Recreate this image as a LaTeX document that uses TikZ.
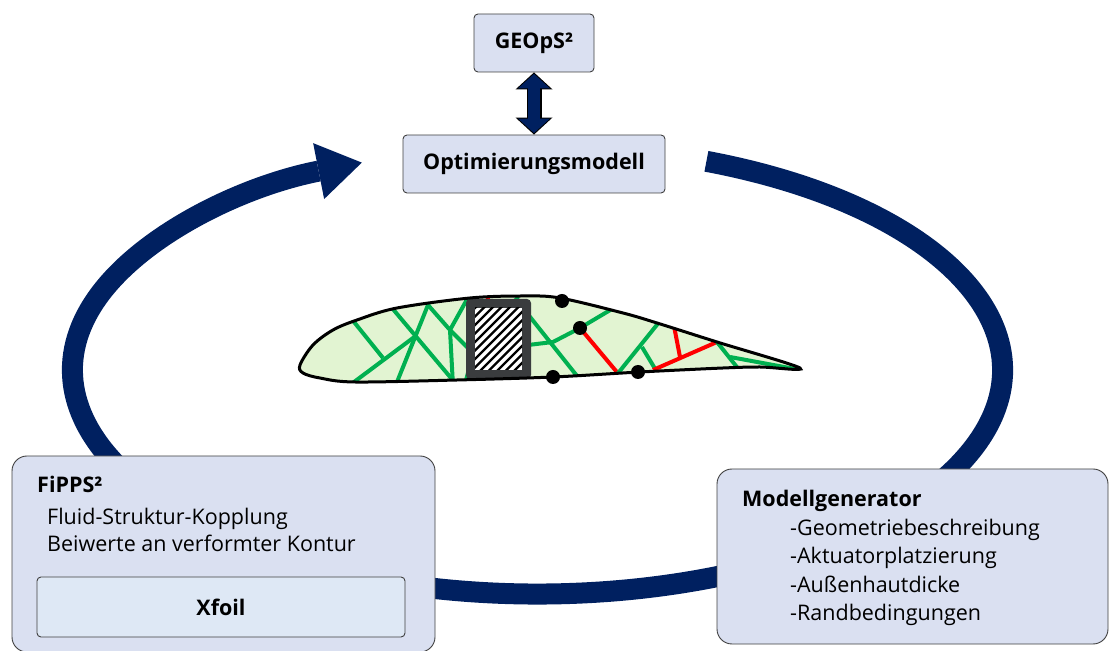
\documentclass[tikz,border=0pt]{standalone}
\usepackage{fontspec}
\setmainfont{Open Sans}
\usetikzlibrary{arrows.meta,positioning}

\definecolor{navy}{HTML}{002060}
\definecolor{boxfill}{HTML}{DAE0F1}
\definecolor{xfoilfill}{HTML}{DEE8F5}
\definecolor{skin}{HTML}{E2F4D2}
\definecolor{webgreen}{HTML}{00B050}
\definecolor{actgray}{HTML}{3A3C3E}

\newcommand{\foilpath}{plot[smooth cycle, tension=0.55] coordinates {
    (300,285) (313,305) (333,320) (357,330) (397,342) (470,352) (523,354)
    (560,352) (623,337) (657,327) (717,308) (800,282) (760,283) (723,282)
    (640,278) (553,273) (457,270) (355,268) (320,272) (303,277)}}

\begin{document}
\begin{tikzpicture}[x=1pt,y=1pt,
  box/.style={draw=black!75, line width=0.9pt, fill=boxfill, rounded corners=4pt},
  bigbox/.style={box, rounded corners=15pt},
  title/.style={font=\fontsize{21.5}{26}\selectfont\bfseries},
  txt/.style={font=\fontsize{21.5}{26}\selectfont, anchor=base west, inner sep=0pt},
  web/.style={webgreen, line width=4pt},
  webred/.style={red, line width=4pt},
  joint/.style={fill=black}]
  \useasboundingbox (0,0) rectangle (1110,650);

  %ring
  \draw[navy, line width=21pt, -{Triangle[width=57pt,length=44pt,line width=0pt]}]
    (537.5,280) ++(68.7:465 and 224)
    arc[start angle=68.7, end angle=-247.8, x radius=465, y radius=224];

  %top boxes
  \node[box, minimum width=120pt, minimum height=58pt, title] (geops) at (534,607) {GEOpS²};
  \node[box, minimum width=262pt, minimum height=58pt, title] (optim) at (534,486) {Optimierungsmodell};
  \draw[black, line width=15pt, {Triangle[width=37pt,length=17pt,line width=0pt]}-{Triangle[width=37pt,length=17pt,line width=0pt]}]
    (geops.south) -- (optim.north);
  \draw[navy, line width=12.5pt, {Triangle[width=32pt,length=14.5pt,line width=0pt]}-{Triangle[width=32pt,length=14.5pt,line width=0pt]},
    shorten <=1.5pt, shorten >=1.5pt]
    (geops.south) -- (optim.north);

  %left box
  \node[bigbox, minimum width=423pt, minimum height=196pt] (fipps) at (223.5,96) {};
  \node[txt, title] (fippstitle) at (37,157) {FiPPS²};
  \node[txt] (fsi) at (47,125) {Fluid-Struktur-Kopplung};
  \node[txt] (coeff) at (47,98) {Beiwerte an verformter Kontur};
  \node[box, fill=xfoilfill, minimum width=368pt, minimum height=60pt, title] (xfoil) at (221,43) {Xfoil};

  %right box
  \node[bigbox, minimum width=391pt, minimum height=175pt] (modell) at (912.5,93.5) {};
  \node[txt, title] (modelltitle) at (742,143) {Modellgenerator};
  \foreach \t [count=\i] in {Geometriebeschreibung,Aktuatorplatzierung,Außenhautdicke,Randbedingungen}
    \node[txt] (item\i) at (790,143-28.5*\i) {-\t};

  %airfoil
  \fill[skin] \foilpath;
  \begin{scope}
    \clip \foilpath;
    %ribs
    \draw[web] (350,333) -- (383,292);
    \draw[web] (350,265) -- (417,315);
    \draw[web] (392,342) -- (456,266);
    \draw[web] (395,263) -- (430,350);
    \draw[web] (428,345) -- (450,320) -- (470,356);
    \draw[web] (450,320) -- (453,264);
    \draw[web] (450,320) -- (475,295);
    \draw[web] (464,262) -- (470,285);
    \draw[web] (483,262) -- (481,285);
    \draw[webred] (487,360) -- (489,340);
    \draw[web] (517,360) -- (518,340);
    \draw[web] (515,352) -- (581,269);
    \draw[web] (520,304) -- (553,308) -- (580,322) -- (612,341);
    \draw[webred] (580,322) -- (621,273);
    \draw[web] (615,273) -- (660,329);
    \draw[web] (642,303) -- (657,278);
    \draw[webred] (653,280) -- (717,308);
    \draw[webred] (674,324) -- (680,293);
    \draw[web] (717,308) -- (740,279);
    \draw[web] (730,293) -- (795,281);
    %actuator
    \fill[actgray, rounded corners=4pt] (466,271) rectangle (531,351);
    \fill[white] (475,280) rectangle (522,342);
    \clip (475,280) rectangle (522,342);
    \foreach \c in {0,...,14}
      \draw[black, line width=2.4pt] (133+\c*8.5+270,270) -- ++(80,80);
  \end{scope}
  \draw[line width=3pt] \foilpath;

  %joints
  \fill[joint] (562,349) circle (7);
  \fill[joint] (580,322) circle (7);
  \fill[joint] (553,273) circle (7);
  \fill[joint] (638,278) circle (7);
\end{tikzpicture}
\end{document}
